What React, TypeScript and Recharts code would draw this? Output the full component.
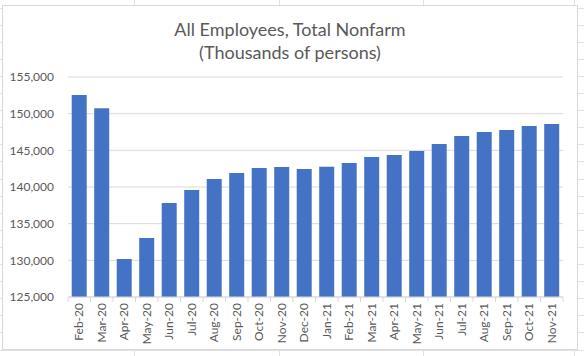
import { BarChart, Bar, XAxis, YAxis, CartesianGrid } from 'recharts';

const months = [
  'Feb-20', 'Mar-20', 'Apr-20', 'May-20', 'Jun-20', 'Jul-20', 'Aug-20', 'Sep-20', 'Oct-20', 'Nov-20', 'Dec-20',
  'Jan-21', 'Feb-21', 'Mar-21', 'Apr-21', 'May-21', 'Jun-21', 'Jul-21', 'Aug-21', 'Sep-21', 'Oct-21', 'Nov-21',
];

const employees = [
  152560, 150740, 130180, 133050, 137820, 139600, 141100, 141900, 142600, 142730, 142460,
  142750, 143280, 144100, 144370, 144920, 145870, 146960, 147500, 147780, 148330, 148600,
];

const yTicks = [125000, 130000, 135000, 140000, 145000, 150000, 155000];

const data = months.map((m, i) => ({ month: m, value: employees[i] }));

const FONT = 'Lato, "Open Sans", sans-serif';
const TEXT = '#595959';
const GRID = '#d9d9d9';

const PLOT_W = 495;
const BAND = PLOT_W / months.length;

function MonthTick(props: any) {
  const { x, y, payload, index } = props;
  return (
    <g transform={`translate(${x},${y})`}>
      <line x1={-BAND / 2} y1={0} x2={-BAND / 2} y2={5} stroke={GRID} />
      {index === months.length - 1 && <line x1={BAND / 2} y1={0} x2={BAND / 2} y2={5} stroke={GRID} />}
      <text
        transform="rotate(-90)"
        x={-6}
        y={0}
        dy={4}
        textAnchor="end"
        fill={TEXT}
        fontSize={12}
        fontFamily={FONT}
      >
        {payload.value}
      </text>
    </g>
  );
}

export default function App() {
  return (
    <div
      style={{
        position: 'fixed',
        left: 0,
        top: 0,
        width: 584,
        height: 356,
        backgroundColor: '#fff',
        backgroundImage:
          'repeating-linear-gradient(to bottom, transparent 0px, transparent 7.6px, #e1e1e1 7.6px, #e1e1e1 8.6px, transparent 8.6px, transparent 17.1px), ' +
          'repeating-linear-gradient(to right, transparent 0px, transparent 67px, #e1e1e1 67px, #e1e1e1 68px, transparent 68px, transparent 144.5px)',
        backgroundPosition: '0 0, -77px 0',
        overflow: 'hidden',
      }}
    >
      <div
        style={{
          position: 'absolute',
          left: 2,
          top: 5,
          width: 576,
          height: 345,
          background: '#fff',
          border: `1px solid ${GRID}`,
          boxSizing: 'border-box',
        }}
      >
        <div
          style={{
            position: 'absolute',
            left: 0,
            top: 12,
            width: '100%',
            textAlign: 'center',
            fontFamily: FONT,
            fontSize: 18,
            lineHeight: '23px',
            color: TEXT,
          }}
        >
          All Employees, Total Nonfarm
          <br />
          (Thousands of persons)
        </div>
        <div style={{ position: 'absolute', left: -1, top: -1 }}>
          <BarChart
            width={576}
            height={345}
            data={data}
            margin={{ top: 72, right: 15, left: 0, bottom: 0 }}
            barCategoryGap="16.5%"
          >
            <CartesianGrid vertical={false} stroke={GRID} strokeDasharray="" />
            <XAxis
              dataKey="month"
              interval={0}
              height={53}
              tickSize={0}
              tickMargin={0}
              tickLine={false}
              axisLine={{ stroke: GRID }}
              tick={<MonthTick />}
            />
            <YAxis
              width={66}
              domain={[125000, 155000]}
              ticks={yTicks}
              allowDataOverflow
              axisLine={false}
              tickLine={false}
              tickSize={0}
              tickMargin={14}
              tick={{ fill: TEXT, fontSize: 12, fontFamily: FONT }}
              tickFormatter={(v: number) => v.toLocaleString('en-US')}
            />
            <Bar dataKey="value" fill="#4472C4" isAnimationActive={false} />
          </BarChart>
        </div>
      </div>
    </div>
  );
}
